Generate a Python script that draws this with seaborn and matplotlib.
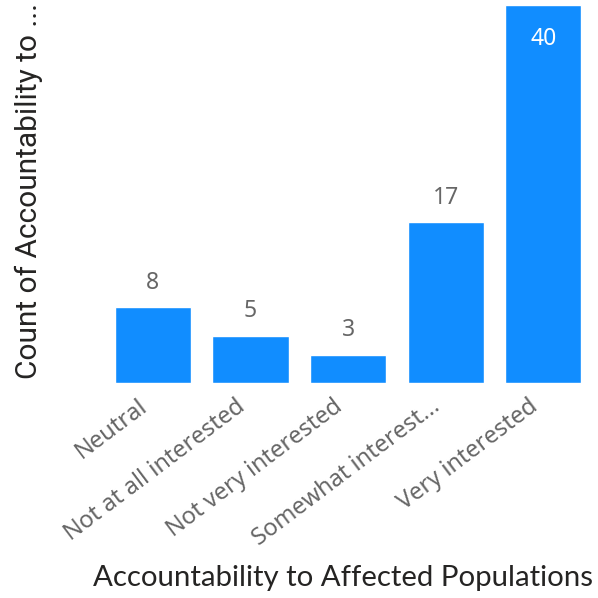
import matplotlib
matplotlib.use("Agg")
import matplotlib.pyplot as plt
import matplotlib.transforms as mtransforms
import seaborn as sns
import pandas as pd

categories = ["Neutral", "Not at all interested", "Not very interested",
              "Somewhat interest...", "Very interested"]
counts = [8, 5, 3, 17, 40]

df = pd.DataFrame({"Response": categories, "Count": counts})

sns.set_style("white")

fig = plt.figure(figsize=(5.98, 5.98), dpi=100)
ax = fig.add_axes([0.174, 0.3595, 0.816, 0.632])

sns.barplot(data=df, x="Response", y="Count", color="#118DFF", saturation=1,
            width=0.78, ax=ax)

ax.set_ylim(0, 40)
ax.set_xlim(-0.5, len(categories) - 0.5)
ax.set_yticks([])
ax.set_ylabel("")
ax.set_xlabel("")
for s in ax.spines.values():
    s.set_visible(False)

# rotated category labels, nudged left like the original
ax.tick_params(axis="x", length=0, pad=8)
ax.set_xticks(range(len(categories)))
ax.set_xticklabels(categories, rotation=37, ha="right", va="top",
                   rotation_mode="anchor", fontsize=17, color="#666666",
                   family="Noto Sans")
shift = mtransforms.ScaledTranslation(-0.15, 0, fig.dpi_scale_trans)
for lab in ax.get_xticklabels():
    lab.set_transform(lab.get_transform() + shift)

for i, v in enumerate(counts):
    if v >= 38:
        ax.text(i, v - 3.6, str(v), ha="center", va="center", color="white",
                fontsize=16.5, family="Noto Sans")
    else:
        ax.text(i, v + 2.6, str(v), ha="center", va="center", color="#666666",
                fontsize=16.5, family="Noto Sans")

fig.text(0.048, 0.68, "Count of Accountability to ...", rotation=90,
         ha="center", va="center", fontsize=21.5, color="#252423", family="Roboto")
fig.text(0.573, 0.033, "Accountability to Affected Populations",
         ha="center", va="center", fontsize=21.2, color="#252423", family="Lato")

fig.savefig("out.png", dpi=100)
